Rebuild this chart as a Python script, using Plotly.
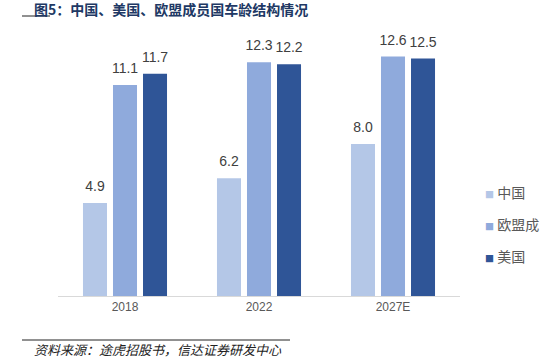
import plotly.graph_objects as go

categories = ["2018", "2022", "2027E"]
series_names = ["中国", "欧盟成", "美国"]
china = [4.9, 6.2, 8.0]
eu = [11.1, 12.3, 12.6]
usa = [11.7, 12.2, 12.5]
colors = ["#B4C7E7", "#8FAADC", "#2F5597"]

title_text = "图5：中国、美国、欧盟成员国车龄结构情况"
source_text = "资料来源：途虎招股书，信达证券研发中心"

W, H = 542, 358
L, R, T, B = 58, 82, 30, 62

fig = go.Figure()
for i, (name, vals, col) in enumerate(zip(series_names, [china, eu, usa], colors)):
    fig.add_trace(go.Bar(
        x=categories, y=vals, name=name,
        marker=dict(color=col, line=dict(width=0)),
        offsetgroup=str(i), alignmentgroup="a",
        showlegend=False, hoverinfo="skip",
    ))
    fig.add_trace(go.Scatter(
        x=categories, y=vals, mode="markers+text",
        text=[f"{v:.1f}" for v in vals],
        textposition="top center",
        marker=dict(size=12, opacity=0),
        textfont=dict(family="Liberation Sans, Arial", size=14, color="#404040"),
        offsetgroup=str(i), alignmentgroup="a",
        cliponaxis=False, showlegend=False, hoverinfo="skip",
    ))

fig.update_layout(
    width=W, height=H,
    margin=dict(l=L, r=R, t=T, b=B),
    paper_bgcolor="white", plot_bgcolor="white",
    barmode="group", bargap=0.328, bargroupgap=0.2,
    scattermode="group", scattergap=0.328,
    xaxis=dict(showline=True, linecolor="#D9D9D9", linewidth=1, ticks="",
               tickfont=dict(family="Liberation Sans, Arial", size=12, color="#595959"),
               showgrid=False, zeroline=False),
    yaxis=dict(range=[0, 14], visible=False, showgrid=False, zeroline=False),
)

def px_x(px):
    return (px - L) / (W - L - R)

def px_y(py):
    return (H - B - py) / (H - T - B)

# legend built as annotations
leg_y = [192, 224, 256]
for name, col, yy in zip(series_names, colors, leg_y):
    fig.add_annotation(
        xref="paper", yref="paper", x=px_x(483), y=px_y(yy),
        xanchor="left", yanchor="middle", showarrow=False,
        text=f'<span style="color:{col};font-size:9px">■</span> {name}',
        font=dict(family="Noto Sans CJK SC", size=14, color="#595959"),
    )

# title
fig.add_annotation(
    xref="paper", yref="paper", x=px_x(32), y=px_y(9),
    xanchor="left", yanchor="middle", showarrow=False,
    text=f"<b>{title_text}</b>",
    font=dict(family="Noto Sans CJK SC", size=14, color="#203864"),
)
fig.add_shape(type="line", xref="paper", yref="paper",
              x0=px_x(22), x1=px_x(50), y0=px_y(16), y1=px_y(16),
              line=dict(color="#222222", width=1))

# source
fig.add_shape(type="line", xref="paper", yref="paper",
              x0=px_x(22), x1=px_x(290), y0=px_y(340), y1=px_y(340),
              line=dict(color="#222222", width=1))
fig.add_annotation(
    xref="paper", yref="paper", x=px_x(32), y=px_y(349),
    xanchor="left", yanchor="middle", showarrow=False,
    text=f"<i>{source_text}</i>",
    font=dict(family="Noto Sans CJK SC", size=13, color="#222222"),
)

fig.write_html(
    "out.html",
    config={"displayModeBar": False},
    post_script="document.body.style.margin='0';document.body.style.overflow='hidden';",
)
